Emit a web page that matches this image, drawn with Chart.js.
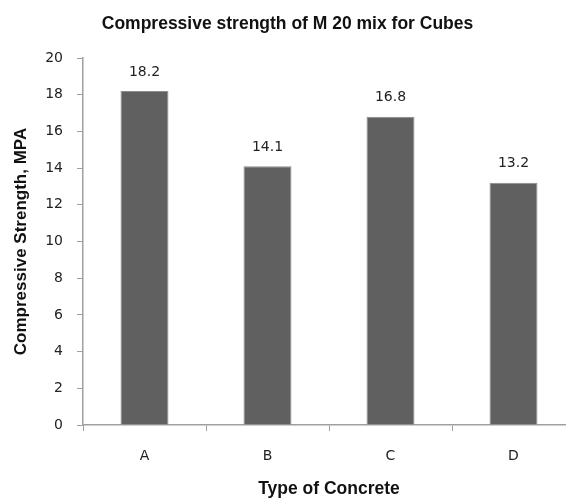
<!DOCTYPE html>
<html>
<head>
<meta charset="utf-8">
<script src="https://cdn.jsdelivr.net/npm/chart.js@4/dist/chart.umd.min.js"></script>
<style>
  html, body { margin: 0; padding: 0; background: #fff; overflow: hidden; }
  #wrap { width: 600px; height: 500px; }
</style>
</head>
<body>
<div id="wrap"><canvas id="strengthChart" width="600" height="500"></canvas></div>
<script>
const categories = ['A', 'B', 'C', 'D'];
const strengthValues = [18.2, 14.1, 16.8, 13.2];
const yTicks = [0, 2, 4, 6, 8, 10, 12, 14, 16, 18, 20];

const labelFont = '"DejaVu Sans", Verdana, sans-serif';
const titleFont = '"Liberation Sans", Arial, sans-serif';

// draws the value above each bar
const barLabels = {
    id: 'barLabels',
    afterDatasetsDraw(chart) {
        const ctx = chart.ctx;
        const meta = chart.getDatasetMeta(0);
        ctx.save();
        ctx.font = '14px ' + labelFont;
        ctx.fillStyle = '#222';
        ctx.textAlign = 'center';
        ctx.textBaseline = 'middle';
        meta.data.forEach((bar, i) => {
            ctx.fillText(strengthValues[i].toFixed(1), bar.x, bar.y - 19);
        });
        ctx.restore();
    }
};

const ctx = document.getElementById('strengthChart').getContext('2d');
new Chart(ctx, {
    type: 'bar',
    data: {
        labels: categories,
        datasets: [{
            label: 'Compressive Strength',
            data: strengthValues,
            backgroundColor: '#606060',
            borderColor: '#8c8c8c',
            borderWidth: 1,
            barPercentage: 0.39,
            categoryPercentage: 1
        }]
    },
    options: {
        responsive: false,
        animation: false,
        layout: { padding: { left: 0, right: 25, top: 0, bottom: 0 } },
        plugins: {
            legend: { display: false },
            tooltip: { enabled: false },
            title: {
                display: true,
                text: 'Compressive strength of M 20 mix for Cubes',
                color: '#111',
                font: { family: titleFont, size: 17.5, weight: 'bold', lineHeight: 1.2 },
                padding: { top: 14, bottom: 23 }
            }
        },
        scales: {
            x: {
                grid: { display: true, drawOnChartArea: false, offset: true, tickLength: 6, color: '#a0a0a0' },
                border: { color: '#a0a0a0', width: 1.5 },
                ticks: {
                    color: '#222',
                    padding: 17,
                    font: { family: labelFont, size: 14 }
                },
                title: {
                    display: true,
                    text: 'Type of Concrete',
                    color: '#111',
                    font: { family: titleFont, size: 17.5, weight: 'bold' },
                    padding: { top: 0, bottom: 0 }
                },
                afterFit(scale) { scale.height = 75; }
            },
            y: {
                min: 0,
                max: 20,
                afterBuildTicks(scale) { scale.ticks = yTicks.map(v => ({ value: v })); },
                grid: { display: true, drawOnChartArea: false, tickLength: 6, color: '#a0a0a0' },
                border: { color: '#a0a0a0', width: 1.5 },
                ticks: {
                    color: '#222',
                    padding: 14,
                    font: { family: labelFont, size: 14 }
                },
                title: {
                    display: true,
                    text: 'Compressive Strength, MPA',
                    color: '#111',
                    font: { family: titleFont, size: 17, weight: 'bold' },
                    padding: { top: 11, bottom: 0 }
                },
                afterFit(scale) { scale.width = 83; }
            }
        }
    },
    plugins: [barLabels]
});
</script>
</body>
</html>
